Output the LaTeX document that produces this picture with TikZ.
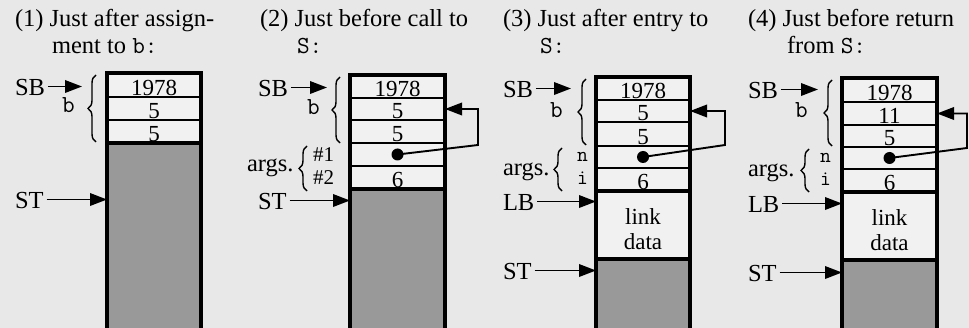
\documentclass[tikz,border=0pt]{standalone}
\usepackage{fontspec}
\setmainfont{Liberation Serif}
\usetikzlibrary{arrows.meta,decorations.pathreplacing}
\definecolor{bgc}{gray}{0.91}
\definecolor{cellc}{gray}{0.945}
\definecolor{stkc}{gray}{0.60}
\begin{document}
\begin{tikzpicture}[x=1pt,y=-1pt,
 every node/.style={font=\fontsize{23}{25}\selectfont, inner sep=0pt, outer sep=0pt},
 cell/.style={draw=black, line width=1.8pt, fill=cellc, anchor=north west},
 stk/.style={cell, fill=stkc},
 boxline/.style={line width=3.4pt},
 ptr/.style={line width=1.9pt, -{Triangle[length=17pt,width=12.5pt]}},
 brc/.style={decorate, decoration={brace, amplitude=8pt}, line width=1.4pt},
 val/.style={anchor=base},
 lbl/.style={anchor=base west, font=\fontsize{24.5}{27}\selectfont},
 pair/.style={anchor=base west, align=left, font=\fontsize{21}{23.6}\selectfont},
 dotst/.style={circle, fill=black, minimum size=12pt},
]
\clip (0,0) rectangle (969,328);
\fill[bgc] (0,0) rectangle (969,328);

% ---------------- titles
\node[lbl] (t1a) at (15,27) {(1) Just after assign-};
\node[lbl] (t1b) at (52,54) {ment to \texttt{b:}};
\node[lbl] (t2a) at (260,27) {(2) Just before call to};
\node[lbl] (t2b) at (297,54) {\texttt{S:}};
\node[lbl] (t3a) at (503,27) {(3) Just after entry to};
\node[lbl] (t3b) at (540,54) {\texttt{S:}};
\node[lbl] (t4a) at (748,27) {(4) Just before return};
\node[lbl] (t4b) at (787,54) {from \texttt{S:}};

% ---------------- panel 1
\node[cell, minimum width=94pt, minimum height=24pt] (p1a) at (107,73) {};
\node[cell, minimum width=94pt, minimum height=23pt] (p1b) at (107,97) {};
\node[cell, minimum width=94pt, minimum height=23pt] (p1c) at (107,120) {};
\node[stk, minimum width=94pt, minimum height=190pt] (p1g) at (107,143) {};
\draw[boxline] (p1a.north west) rectangle (p1g.south east);
\draw[boxline] (p1g.north west) -- (p1g.north east);
\node[val] (p1va) at ([yshift=1pt]p1a.south) {1978};
\node[val] (p1vb) at ([yshift=1pt]p1b.south) {5};
\node[val] (p1vc) at ([yshift=1pt]p1c.south) {5};
\node[lbl] (p1SB) at (15,96) {SB};
\coordinate (p1sbe) at (82,0);
\draw[ptr] ([xshift=3pt,yshift=1.5pt]p1SB.east) -- ([yshift=1.5pt]p1SB.east -| p1sbe);
\coordinate (p1bt) at (96,75);
\coordinate (p1bb) at (96,142);
\draw[brc] (p1bb) -- (p1bt);
\node[lbl] (p1bl) at (62,113) {\texttt{b}};
\node[lbl] (p1ST) at (15,209) {ST};
\draw[ptr] ([xshift=3pt,yshift=1.5pt]p1ST.east) -- ([yshift=1.5pt]p1ST.east -| p1g.west);

% ---------------- panel 2
\node[cell, minimum width=95pt, minimum height=23pt] (p2a) at (350,75) {};
\node[cell, minimum width=95pt, minimum height=22pt] (p2b) at (350,98) {};
\node[cell, minimum width=95pt, minimum height=23pt] (p2c) at (350,120) {};
\node[cell, minimum width=95pt, minimum height=23pt] (p2d) at (350,143) {};
\node[cell, minimum width=95pt, minimum height=23pt] (p2e) at (350,166) {};
\node[stk, minimum width=95pt, minimum height=145pt] (p2g) at (350,189) {};
\draw[boxline] (p2a.north west) rectangle (p2g.south east);
\draw[boxline] (p2g.north west) -- (p2g.north east);
\node[val] (p2va) at ([yshift=1pt]p2a.south) {1978};
\node[val] (p2vb) at ([yshift=1pt]p2b.south) {5};
\node[val] (p2vc) at ([yshift=1pt]p2c.south) {5};
\node[val] (p2ve) at ([yshift=1pt]p2e.south) {6};
\node[dotst] (p2dot) at (p2d.center) {};
\coordinate (p2k) at (478,145);
\draw[ptr] (p2dot.center) -- (p2k) |- (p2b.east);
\node[lbl] (p2SB) at (258,97) {SB};
\coordinate (p2sbe) at (327,0);
\draw[ptr] ([xshift=3pt,yshift=1.5pt]p2SB.east) -- ([yshift=1.5pt]p2SB.east -| p2sbe);
\coordinate (p2bt) at (340,77);
\coordinate (p2bb) at (340,143);
\draw[brc] (p2bb) -- (p2bt);
\node[lbl] (p2bl) at (307,115) {\texttt{b}};
\coordinate (p2at) at (307,146);
\coordinate (p2ab) at (307,191);
\draw[brc] (p2ab) -- (p2at);
\node[lbl] (p2args) at (247,172) {args.};
\node[pair] (p2nums) at (313,185) {\#1\\\#2};
\node[lbl] (p2ST) at (258,210) {ST};
\draw[ptr] ([xshift=3pt,yshift=1.5pt]p2ST.east) -- ([yshift=1.5pt]p2ST.east -| p2g.west);

% ---------------- panel 3
\node[cell, minimum width=94pt, minimum height=23pt] (p3a) at (596,77) {};
\node[cell, minimum width=94pt, minimum height=22pt] (p3b) at (596,100) {};
\node[cell, minimum width=94pt, minimum height=24pt] (p3c) at (596,122) {};
\node[cell, minimum width=94pt, minimum height=22pt] (p3d) at (596,146) {};
\node[cell, minimum width=94pt, minimum height=23pt] (p3e) at (596,168) {};
\node[cell, minimum width=94pt, minimum height=68pt] (p3l) at (596,191) {};
\node[stk, minimum width=94pt, minimum height=75pt] (p3g) at (596,259) {};
\draw[boxline] (p3a.north west) rectangle (p3g.south east);
\draw[boxline] (p3l.north west) -- (p3l.north east);
\draw[boxline] (p3g.north west) -- (p3g.north east);
\node[val] (p3va) at ([yshift=1pt]p3a.south) {1978};
\node[val] (p3vb) at ([yshift=1pt]p3b.south) {5};
\node[val] (p3vc) at ([yshift=1pt]p3c.south) {5};
\node[val] (p3ve) at ([yshift=1pt]p3e.south) {6};
\node[align=center] (p3vl) at ([yshift=-4pt]p3l.center) {link\\data};
\node[dotst] (p3dot) at (p3d.center) {};
\coordinate (p3k) at (725,145);
\draw[ptr] (p3dot.center) -- (p3k) |- (p3b.east);
\node[lbl] (p3SB) at (503,98) {SB};
\coordinate (p3sbe) at (571,0);
\draw[ptr] ([xshift=3pt,yshift=1.5pt]p3SB.east) -- ([yshift=1.5pt]p3SB.east -| p3sbe);
\coordinate (p3bt) at (586,79);
\coordinate (p3bb) at (586,145);
\draw[brc] (p3bb) -- (p3bt);
\node[lbl] (p3bl) at (550,118) {\texttt{b}};
\coordinate (p3at) at (562,148);
\coordinate (p3ab) at (562,191);
\draw[brc] (p3ab) -- (p3at);
\node[lbl] (p3args) at (503,176) {args.};
\node[pair] (p3ni) at (577,185) {\texttt{n}\\\texttt{i}};
\node[lbl] (p3LB) at (503,211) {LB};
\draw[ptr] ([xshift=3pt,yshift=1.5pt]p3LB.east) -- ([yshift=1.5pt]p3LB.east -| p3l.west);
\node[lbl] (p3ST) at (503,280) {ST};
\draw[ptr] ([xshift=3pt,yshift=1.5pt]p3ST.east) -- ([yshift=1.5pt]p3ST.east -| p3g.west);

% ---------------- panel 4
\node[cell, minimum width=95pt, minimum height=24pt] (p4a) at (842,78) {};
\node[cell, minimum width=95pt, minimum height=23pt] (p4b) at (842,102) {};
\node[cell, minimum width=95pt, minimum height=22pt] (p4c) at (842,125) {};
\node[cell, minimum width=95pt, minimum height=22pt] (p4d) at (842,147) {};
\node[cell, minimum width=95pt, minimum height=23pt] (p4e) at (842,169) {};
\node[cell, minimum width=95pt, minimum height=68pt] (p4l) at (842,192) {};
\node[stk, minimum width=95pt, minimum height=75pt] (p4g) at (842,260) {};
\draw[boxline] (p4a.north west) rectangle (p4g.south east);
\draw[boxline] (p4l.north west) -- (p4l.north east);
\draw[boxline] (p4g.north west) -- (p4g.north east);
\node[val] (p4va) at ([yshift=1pt]p4a.south) {1978};
\node[val] (p4vb) at ([yshift=1pt]p4b.south) {11};
\node[val] (p4vc) at ([yshift=1pt]p4c.south) {5};
\node[val] (p4ve) at ([yshift=1pt]p4e.south) {6};
\node[align=center] (p4vl) at ([yshift=-4pt]p4l.center) {link\\data};
\node[dotst] (p4dot) at (p4d.center) {};
\coordinate (p4k) at (967,148);
\draw[ptr] (p4dot.center) -- (p4k) |- (p4b.east);
\node[lbl] (p4SB) at (748,99) {SB};
\coordinate (p4sbe) at (818,0);
\draw[ptr] ([xshift=3pt,yshift=1.5pt]p4SB.east) -- ([yshift=1.5pt]p4SB.east -| p4sbe);
\coordinate (p4bt) at (832,80);
\coordinate (p4bb) at (832,146);
\draw[brc] (p4bb) -- (p4bt);
\node[lbl] (p4bl) at (795,118) {\texttt{b}};
\coordinate (p4at) at (809,149);
\coordinate (p4ab) at (809,192);
\draw[brc] (p4ab) -- (p4at);
\node[lbl] (p4args) at (748,177) {args.};
\node[pair] (p4ni) at (820,186) {\texttt{n}\\\texttt{i}};
\node[lbl] (p4LB) at (748,213) {LB};
\draw[ptr] ([xshift=3pt,yshift=1.5pt]p4LB.east) -- ([yshift=1.5pt]p4LB.east -| p4l.west);
\node[lbl] (p4ST) at (748,282) {ST};
\draw[ptr] ([xshift=3pt,yshift=1.5pt]p4ST.east) -- ([yshift=1.5pt]p4ST.east -| p4g.west);
\end{tikzpicture}
\end{document}
